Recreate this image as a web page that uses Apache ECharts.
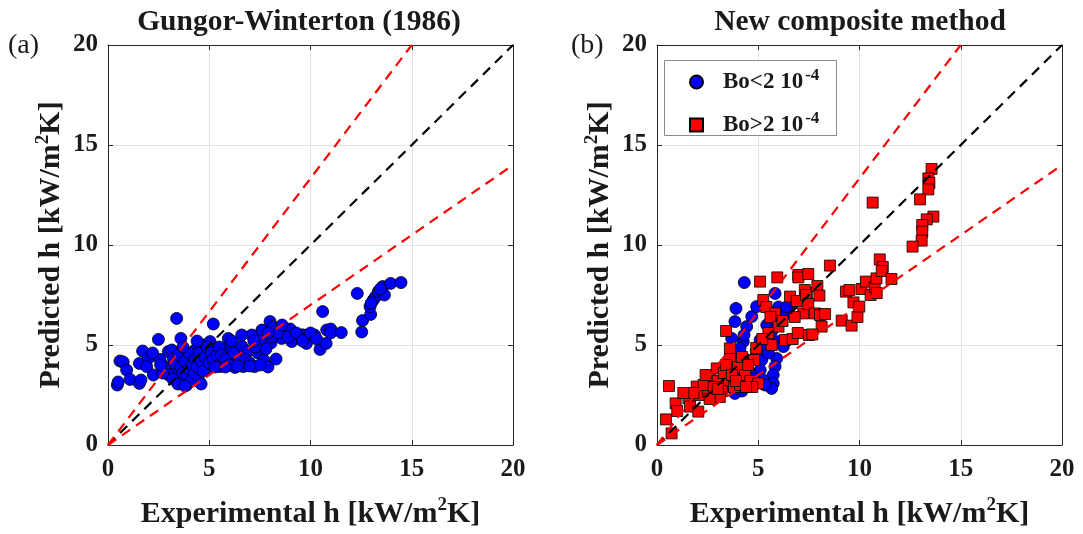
<!DOCTYPE html>
<html>
<head>
<meta charset="utf-8">
<script src="https://cdn.jsdelivr.net/npm/echarts@6/dist/echarts.min.js"></script>
<style>html,body{margin:0;padding:0;background:#fff;}#chart{width:1083px;height:534px;}</style>
</head>
<body>
<div id="chart"></div>
<script>
// ---- Data ----
const tickValues = [0, 5, 10, 15, 20];
const panelTitles = ['Gungor-Winterton (1986)', 'New composite method'];
const panelLetters = ['(a)', '(b)'];
const xAxisName = 'Experimental h [kW/m{sup|2}K]';
const yAxisName = 'Predicted h [kW/m{sup|2}K]';
const seriesNames = ['Bo<2 10-4', 'Bo>2 10-4'];
const legendLabels = ['Bo<2 10{sup|-4}', 'Bo>2 10{sup|-4}'];

const lineParity = [[0, 0], [20, 20]];
const lineUpper = [[0, 0], [15, 20]];
const lineLower = [[0, 0], [20, 14]];

// Panel (a): Gungor-Winterton predictions [experimental, predicted]
const gwPoints = [
  [0.46,3.0],[0.5,3.15],[0.59,4.2],[0.75,4.15],[0.92,3.75],[1.09,3.28],[1.55,3.08],[1.63,3.25],
  [1.55,4.08],[1.71,4.7],[1.99,4.33],[1.91,3.92],[2.24,3.5],[2.49,5.28],[2.57,4.28],[2.81,3.92],
  [2.98,4.67],[3.39,6.33],[3.6,5.33],[3.15,4.75],[3.23,4.33],[3.39,3.75],[3.56,3.25],[3.89,3.0],
  [3.97,4.42],[4.3,4.75],[4.38,3.42],[4.2,4.1],[4.71,5.0],[5.04,5.17],[5.2,6.05],[4.95,3.83],
  [5.37,4.83],[5.53,3.92],[5.7,4.2],[5.86,4.83],[5.94,5.33],[6.1,4.7],[6.27,3.88],[6.4,4.4],
  [6.68,3.92],[6.6,4.95],[6.9,4.7],[7.1,5.5],[7.24,3.92],[7.4,4.6],[7.6,5.3],[7.6,5.75],
  [7.7,4.25],[7.9,3.9],[8.0,6.17],[8.05,5.1],[8.15,5.92],[8.3,4.3],[8.58,5.33],[8.7,5.75],
  [9.07,5.17],[9.0,5.8],[9.56,5.5],[9.65,5.5],[9.9,5.4],[9.8,5.08],[10.2,5.5],[10.47,4.78],
  [10.77,5.08],[10.6,6.67],[10.8,5.75],[11.0,5.8],[11.0,5.6],[11.52,5.62],[12.31,7.58],[12.53,5.65],
  [12.57,6.22],[12.97,6.53],[12.94,6.92],[13.1,7.25],[13.2,7.4],[13.35,7.67],[13.56,7.92],[13.65,7.5],
  [13.96,8.08],[14.47,8.12],[13.45,7.8],[13.0,7.1],
  [3.3,4.1],[3.5,4.5],[3.6,3.9],[3.7,3.6],[3.8,4.2],[3.9,3.5],[4.0,3.8],[4.0,4.6],[4.1,3.2],
  [4.15,4.0],[4.25,3.6],[4.3,4.3],[4.4,3.9],[4.5,4.6],[4.5,3.2],[4.6,4.2],[4.7,3.7],[4.8,4.4],
  [4.9,4.9],[5.0,4.1],[5.1,4.6],[5.2,4.3],[5.3,3.9],[5.4,4.5],[5.5,4.9],[5.6,4.5],[5.8,4.3],
  [6.0,4.0],[6.2,4.6],[6.5,4.2],[6.8,4.3],[7.0,4.1],[7.3,4.9],[7.5,4.0],[7.8,4.8],[8.1,5.4],
  [8.4,5.6],[8.9,5.4],[9.3,5.6],[9.6,5.2],[10.0,5.6],[10.3,5.3],[3.0,3.5],[2.7,3.6],[3.2,3.3],
  [3.45,3.05],[4.6,3.05],[3.8,2.95],[2.2,4.6],[2.6,4.0],[4.4,5.2],[3.7,4.9],[6.1,5.2],[6.6,5.5],
  [7.2,5.2],[7.9,5.6],[8.6,6.0],[5.8,3.9],[6.4,3.95],[7.0,3.95]
];

// Panel (b): new composite method, Bo < 2e-4
const lowBoPoints = [
  [4.31,8.12],[5.83,7.58],[3.9,6.83],[3.85,6.17],[4.43,5.92],[4.68,6.42],[4.92,6.92],[5.42,6.0],
  [5.66,5.67],[3.69,5.33],[4.26,5.17],[5.09,5.25],[5.33,4.92],[5.99,5.17],[6.24,4.92],[5.91,4.33],
  [5.83,3.92],[5.74,3.5],[5.74,3.08],[5.66,2.83],[5.17,4.25],[5.1,3.75],[5.25,3.25],[4.43,4.25],
  [4.1,4.83],[3.85,2.58],[4.1,3.9],[4.6,3.6],[5.33,3.0],[6.65,7.0],[6.3,6.5],[4.0,3.3],
  [3.7,2.9],[4.2,2.7],[4.5,3.0],[4.8,3.3],[3.6,4.0],[5.5,4.6],[6.0,6.9],[6.4,6.9],
  [4.3,5.5],[3.8,4.6],[4.9,4.7],[5.8,6.3]
];

// Panel (b): new composite method, Bo > 2e-4
const highBoPoints = [
  [0.59,2.95],[0.44,1.28],[0.72,0.58],[0.92,2.08],[1.55,2.33],[1.63,1.92],[2.04,1.67],[1.96,2.92],
  [2.1,2.5],[2.53,2.67],[2.62,3.42],[2.95,3.83],[3.0,3.2],[3.41,5.7],[3.6,4.83],[3.6,4.3],
  [3.55,3.2],[3.8,2.9],[4.0,3.9],[4.1,3.0],[4.35,3.5],[4.6,3.2],[4.8,4.25],[5.0,3.08],
  [5.09,8.17],[5.94,8.38],[5.25,7.25],[5.4,6.9],[5.83,6.58],[5.6,6.4],[6.0,5.92],[5.66,5.0],
  [6.32,5.25],[6.7,5.3],[6.57,7.42],[6.98,8.5],[6.9,7.2],[7.22,6.58],[7.4,7.6],[7.5,5.5],[4.9,4.85],
  [10.65,12.12],[8.54,8.97],[6.98,8.38],[7.47,8.55],[7.92,7.95],[8.02,7.47],[7.3,7.75],[7.35,7.5],
  [7.47,7.05],[7.8,6.58],[8.05,6.5],[8.3,6.55],[8.13,5.92],[7.67,5.53],[6.95,5.6],
  [9.12,6.22],[9.61,5.97],[9.9,6.4],[9.33,7.67],[9.5,7.75],[9.7,7.13],[9.99,6.92],[10.1,7.8],
  [10.32,8.17],[10.55,7.5],[10.75,7.9],[10.85,7.6],[10.84,8.33],[11.0,9.28],[11.15,8.9],[11.1,8.7],
  [11.58,8.3],
  [13.56,13.8],[13.4,13.33],[13.45,13.1],[13.4,12.78],[12.99,12.28],[13.65,11.42],[13.32,11.28],
  [13.1,11.0],[13.1,10.67],[13.07,10.22],[12.62,9.92],
  [2.3,3.0],[2.8,2.9],[3.2,2.7],[3.3,3.6],[3.4,4.0],[3.7,3.5],[3.9,3.2],[4.2,4.4],[4.5,4.0],
  [4.7,2.9],[3.1,2.4],[2.6,2.3],[1.8,2.6],[2.4,3.5],[3.0,2.8],[4.4,2.9],[5.5,5.6],[6.2,6.2],
  [6.8,6.4],[5.2,5.3],[1.0,1.7],[1.3,2.6]
];

// ---- Chart ----
const FONT = "'Liberation Serif','Times New Roman',serif";
const AXIS_COLOR = '#262626';
const TEXT_COLOR = '#1a1a1a';
const supRich = { sup: { fontSize: 19, fontWeight: 'bold', fontFamily: FONT, color: TEXT_COLOR, verticalAlign: 'top', lineHeight: 22 } };

const gridLefts = [108, 657];
const grids = gridLefts.map(l => ({ left: l, top: 45, width: 405, height: 400, show: false, containLabel: false, outerBoundsMode: 'none' }));

const xAxes = [], yAxes = [];
gridLefts.forEach((_, g) => {
  const common = {
    gridIndex: g, type: 'value', min: tickValues[0], max: tickValues[tickValues.length - 1], interval: 5,
    axisLine: { show: true, onZero: false, lineStyle: { color: AXIS_COLOR, width: 1 } },
    axisTick: { show: true, inside: true, length: 5, lineStyle: { color: AXIS_COLOR } }
  };
  xAxes.push(Object.assign({}, common, {
    position: 'bottom',
    axisLabel: { fontSize: 25, fontWeight: 'bold', fontFamily: FONT, color: TEXT_COLOR, margin: 12 },
    splitLine: { show: true, lineStyle: { color: '#e3e3e3', width: 1 } },
    name: xAxisName, nameLocation: 'middle', nameGap: 51,
    nameTextStyle: { fontSize: 30, lineHeight: 36, fontWeight: 'bold', fontFamily: FONT, color: TEXT_COLOR, rich: supRich }
  }));
  xAxes.push(Object.assign({}, common, {
    position: 'top', axisLabel: { show: false }, splitLine: { show: false }
  }));
  yAxes.push(Object.assign({}, common, {
    position: 'left',
    axisLabel: { fontSize: 25, fontWeight: 'bold', fontFamily: FONT, color: TEXT_COLOR, margin: 10 },
    splitLine: { show: true, lineStyle: { color: '#e3e3e3', width: 1 } },
    name: yAxisName, nameLocation: 'middle', nameGap: 37,
    nameTextStyle: { fontSize: 30, lineHeight: 36, fontWeight: 'bold', fontFamily: FONT, color: TEXT_COLOR, rich: supRich }
  }));
  yAxes.push(Object.assign({}, common, {
    position: 'right', axisLabel: { show: false }, splitLine: { show: false }
  }));
});

function refLines(g) {
  const xi = g * 2, yi = g * 2;
  const mk = (data, color) => ({
    type: 'line', xAxisIndex: xi, yAxisIndex: yi, data: data, showSymbol: false, symbol: 'none',
    silent: true, z: 5,
    lineStyle: { color: color, width: 2.2, type: [10, 7] }
  });
  return [mk(lineParity, '#000000'), mk(lineUpper, '#ff0000'), mk(lineLower, '#ff0000')];
}

const series = [
  { type: 'scatter', name: 'GW', xAxisIndex: 0, yAxisIndex: 0, data: gwPoints, symbol: 'circle', symbolSize: 12, z: 2,
    itemStyle: { color: '#0000ff', borderColor: '#000', borderWidth: 0.8, opacity: 1 } },
  ...refLines(0),
  { type: 'scatter', name: seriesNames[0], xAxisIndex: 2, yAxisIndex: 2, data: lowBoPoints, symbol: 'circle', symbolSize: 12, z: 2,
    itemStyle: { color: '#0000ff', borderColor: '#000', borderWidth: 0.8, opacity: 1 } },
  { type: 'scatter', name: seriesNames[1], xAxisIndex: 2, yAxisIndex: 2, data: highBoPoints, symbol: 'rect', symbolSize: 11, z: 3,
    itemStyle: { color: '#ff0000', borderColor: '#000', borderWidth: 0.8, opacity: 1 } },
  ...refLines(1)
];

const titleCenters = [299, 860];
const graphics = [];
panelTitles.forEach((t, i) => {
  graphics.push({ type: 'text', x: titleCenters[i], y: 22, z: 10,
    style: { text: t, fontSize: 29.5, fontWeight: 'bold', fontFamily: FONT, fill: TEXT_COLOR,
      textAlign: 'center', textVerticalAlign: 'middle', align: 'center', verticalAlign: 'middle' } });
});
const letterX = [8, 571];
panelLetters.forEach((t, i) => {
  graphics.push({ type: 'text', x: letterX[i], y: 46, z: 10,
    style: { text: t, fontSize: 28, fontFamily: FONT, fill: TEXT_COLOR,
      textAlign: 'left', textVerticalAlign: 'middle', align: 'left', verticalAlign: 'middle' } });
});
// legend frame
graphics.push({ type: 'rect', z: 6, shape: { x: 664.5, y: 60.5, width: 172, height: 75 },
  style: { fill: '#ffffff', stroke: '#8a8a8a', lineWidth: 1 } });

const option = {
  animation: false,
  backgroundColor: '#ffffff',
  grid: grids,
  xAxis: xAxes,
  yAxis: yAxes,
  legend: {
    z: 8,
    data: [{ name: seriesNames[0], icon: 'circle' }, { name: seriesNames[1], icon: 'rect' }],
    orient: 'vertical', left: 665, top: 61,
    padding: [6, 16, 0, 24], itemGap: 13, itemWidth: 13, itemHeight: 13,
    borderWidth: 0, backgroundColor: 'transparent',
    selectedMode: false,
    formatter: function (name) { return legendLabels[seriesNames.indexOf(name)]; },
    textStyle: { fontSize: 23, lineHeight: 30, fontWeight: 'bold', fontFamily: FONT, color: TEXT_COLOR, padding: [0, 0, 0, 15],
      rich: { sup: { fontSize: 17, fontWeight: 'bold', fontFamily: FONT, color: TEXT_COLOR, verticalAlign: 'top', lineHeight: 20, padding: [0, 0, 0, 2] } } }
  },
  graphic: graphics,
  series: series
};

const chart = echarts.init(document.getElementById('chart'), null, { renderer: 'canvas' });
chart.setOption(option);
</script>
</body>
</html>
